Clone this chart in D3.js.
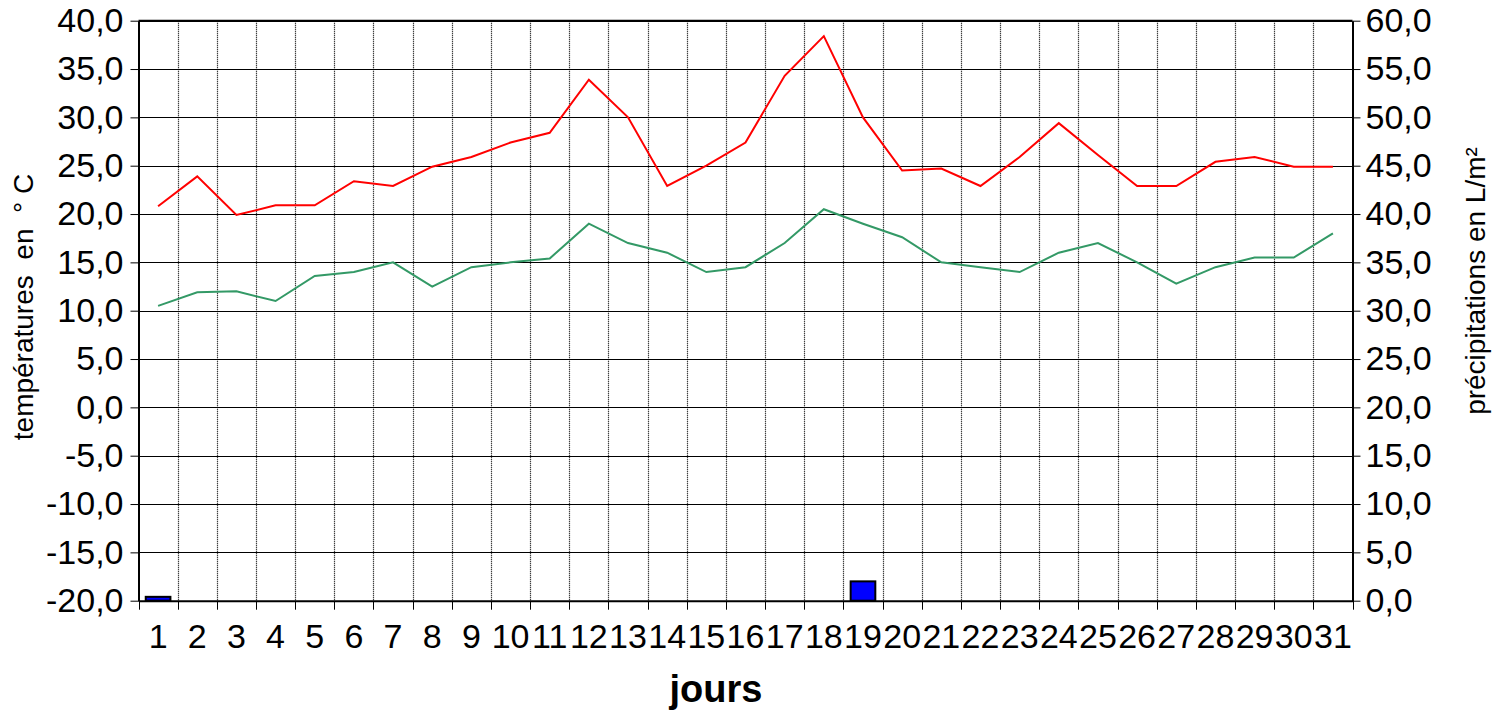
<!DOCTYPE html>
<meta charset="utf-8" />
<html lang="fr">
  <head>
    <script src="https://d3js.org/d3.v7.min.js"></script>
    <style>
      body {
        margin: 0;
        background: #fff;
      }
      svg text {
        font-family: Arial, "Liberation Sans", sans-serif;
        fill: #000;
      }
      .grid-h line {
        stroke: #000;
        stroke-width: 1;
      }
      .grid-v line {
        stroke: #000;
        stroke-width: 1.2;
        stroke-dasharray: 1, 1;
      }
    </style>
  </head>
  <body>
    <svg width="1508" height="712"></svg>
    <script>
      // jours du mois
      var days = d3.range(1, 32);
      // températures maximales (°C)
      var tmax = [20.8, 23.9, 19.9, 20.9, 20.9, 23.4, 22.9, 24.9, 25.9, 27.4,
        28.4, 33.9, 30.0, 22.9, 25.0, 27.4, 34.3, 38.4, 30.0, 24.5,
        24.7, 22.9, 25.9, 29.4, 26.1, 22.9, 22.9, 25.4, 25.9, 24.9, 24.9];
      // températures minimales (°C)
      var tmin = [10.5, 11.9, 12.0, 11.0, 13.6, 14.0, 15.0, 12.5, 14.5, 15.0,
        15.4, 19.0, 17.0, 16.0, 14.0, 14.5, 17.0, 20.5, 19.0, 17.6,
        15.0, 14.5, 14.0, 16.0, 17.0, 15.0, 12.8, 14.5, 15.5, 15.5, 18.0];
      // précipitations (L/m²)
      var rain = [0.4, 0, 0, 0, 0, 0, 0, 0, 0, 0, 0, 0, 0, 0, 0, 0, 0, 0, 2.0,
        0, 0, 0, 0, 0, 0, 0, 0, 0, 0, 0, 0];
      var tempTicks = d3.range(-20, 45, 5);
      var rainTicks = d3.range(0, 65, 5);

      var svg = d3.select("svg");
      var mLeft = 138.5, mRight = 1352.5, mTop = 20.7, mBottom = 600.7;

      var fr = d3.formatLocale({
        decimal: ",",
        thousands: " ",
        grouping: [3],
        currency: ["", " €"],
        minus: "-"
      });
      var fmt = fr.format(".1f");

      var x = d3.scaleBand().domain(days).range([mLeft, mRight]);
      var yT = d3.scaleLinear().domain([-20, 40]).range([mBottom, mTop]);
      var yP = d3.scaleLinear().domain([0, 60]).range([mBottom, mTop]);

      // grille horizontale
      svg.append("g")
        .attr("class", "grid-h")
        .selectAll("line")
        .data(tempTicks)
        .enter()
        .append("line")
        .attr("x1", mLeft)
        .attr("x2", mRight)
        .attr("y1", d => Math.round(yT(d)) + 0.5)
        .attr("y2", d => Math.round(yT(d)) + 0.5);

      // grille verticale pointillée (limites des jours)
      var bounds = days.slice(1).map(d => x(d));
      svg.append("g")
        .attr("class", "grid-v")
        .selectAll("line")
        .data(bounds)
        .enter()
        .append("line")
        .attr("x1", d => Math.round(d) + 0.5)
        .attr("x2", d => Math.round(d) + 0.5)
        .attr("y1", mTop)
        .attr("y2", mBottom);

      // barres de précipitations
      var bw = x.bandwidth() * 0.63;
      svg.append("g")
        .selectAll("rect")
        .data(days.filter((d, i) => rain[i] > 0))
        .enter()
        .append("rect")
        .attr("x", d => x(d) + (x.bandwidth() - bw) / 2)
        .attr("width", bw)
        .attr("y", d => yP(rain[d - 1]))
        .attr("height", d => yP(0) - yP(rain[d - 1]))
        .attr("fill", "#0000ff")
        .attr("stroke", "#000")
        .attr("stroke-width", 2);

      var line = function(arr, y) {
        return d3.line()
          .x(d => x(d) + x.bandwidth() / 2)
          .y(d => y(arr[d - 1]))(days);
      };

      svg.append("path")
        .attr("d", line(tmin, yT))
        .attr("fill", "none")
        .attr("stroke", "#339966")
        .attr("stroke-width", 2);

      svg.append("path")
        .attr("d", line(tmax, yT))
        .attr("fill", "none")
        .attr("stroke", "#ff0000")
        .attr("stroke-width", 2);

      // cadre
      svg.append("line")
        .attr("x1", mLeft).attr("x2", mRight)
        .attr("y1", mTop).attr("y2", mTop)
        .attr("stroke", "#000").attr("stroke-width", 2);

      // axe gauche
      var gL = svg.append("g")
        .attr("transform", "translate(" + mLeft + ",0)")
        .call(d3.axisLeft(yT).tickValues(tempTicks).tickFormat(fmt)
          .tickSize(8).tickPadding(7).tickSizeOuter(0));
      gL.select(".domain").attr("stroke-width", 2);

      // axe droit
      var gR = svg.append("g")
        .attr("transform", "translate(" + mRight + ",0)")
        .call(d3.axisRight(yP).tickValues(rainTicks).tickFormat(fmt)
          .tickSize(8).tickPadding(5).tickSizeOuter(0));
      gR.select(".domain").attr("stroke-width", 2);

      // axe du bas : libellés au centre, graduations aux limites
      var gB = svg.append("g")
        .attr("transform", "translate(0," + mBottom + ")")
        .call(d3.axisBottom(x).tickSize(0).tickPadding(23.5).tickSizeOuter(0));
      gB.select(".domain").attr("stroke-width", 2);
      gB.selectAll(".tick line").remove();
      gB.selectAll("line.bt")
        .data(days.map(d => x(d)).concat([mRight]))
        .enter()
        .append("line")
        .attr("class", "bt")
        .attr("x1", d => Math.round(d) + 0.5)
        .attr("x2", d => Math.round(d) + 0.5)
        .attr("y1", 0)
        .attr("y2", 9)
        .attr("stroke", "#000");

      svg.selectAll(".tick text")
        .style("font-size", "34px")
        .style("font-family", "Arial, 'Liberation Sans', sans-serif");

      // titres des axes
      svg.append("text")
        .attr("transform", "translate(33,307) rotate(-90)")
        .attr("text-anchor", "middle")
        .style("font-size", "28px")
        .style("white-space", "pre")
        .text("températures  en  ° C");

      svg.append("text")
        .attr("transform", "translate(1485,281) rotate(-90)")
        .attr("text-anchor", "middle")
        .style("font-size", "28px")
        .text("précipitations en L/m²");

      svg.append("text")
        .attr("x", 716)
        .attr("y", 702)
        .attr("text-anchor", "middle")
        .style("font-size", "38px")
        .style("font-weight", "bold")
        .text("jours");
    </script>
  </body>
</html>
